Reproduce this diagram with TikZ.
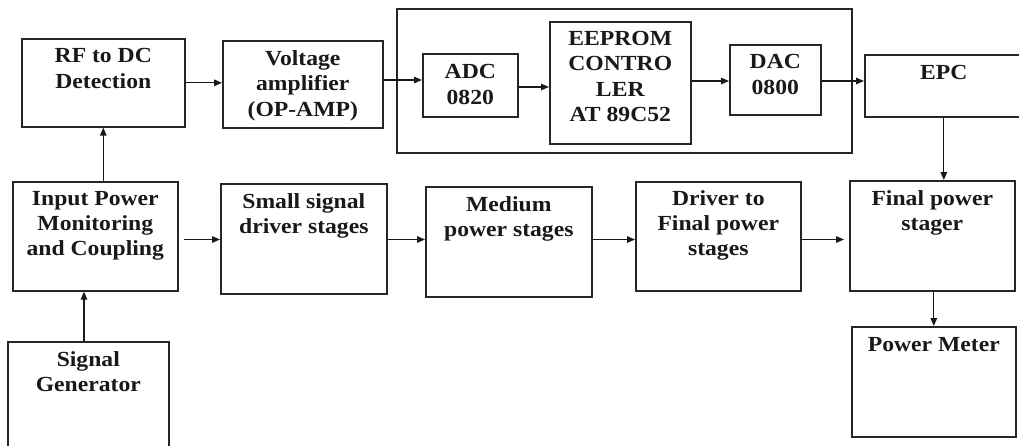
\documentclass[tikz,border=0pt]{standalone}
\usepackage{fontspec}
\setmainfont{Liberation Serif}[FakeStretch=1.1]
\usetikzlibrary{arrows.meta,calc}
\begin{document}
\begin{tikzpicture}[x=1pt,y=1pt,
  blk/.style={draw=black!85, line width=1.6pt, anchor=north west, inner sep=0pt},
  lbl/.style={anchor=north, inner sep=0pt, align=center, text=black!90,
              font=\bfseries\fontsize{21.5}{25.3}\selectfont},
  arr/.style={draw=black!90, line width=1.3pt, -{Triangle[length=8pt,width=6.5pt]}}]
\useasboundingbox (0,0) rectangle (1019,-445);
\fill[white] (0,0) rectangle (1019,-445);
% boxes
\node[blk, minimum width=163pt, minimum height=88pt]  (rf)  at (21,-38)  {};
\node[blk, minimum width=160pt, minimum height=87pt]  (va)  at (222,-40) {};
\node[blk, minimum width=455pt, minimum height=144pt] (mcu) at (396,-8)  {};
\node[blk, minimum width=95pt,  minimum height=63pt]  (adc) at (422,-53) {};
\node[blk, minimum width=141pt, minimum height=122pt] (eep) at (549,-21) {};
\node[blk, minimum width=91pt,  minimum height=70pt]  (dac) at (729,-44) {};
\node[blk, minimum width=158pt, minimum height=62pt]  (epc) at (864,-54) {};
\node[blk, minimum width=165pt, minimum height=109pt] (inp) at (12,-181) {};
\node[blk, minimum width=166pt, minimum height=110pt] (ssd) at (220,-183) {};
\node[blk, minimum width=166pt, minimum height=110pt] (med) at (425,-186) {};
\node[blk, minimum width=165pt, minimum height=109pt] (drv) at (635,-181) {};
\node[blk, minimum width=165pt, minimum height=110pt] (fin) at (849,-180) {};
\node[blk, minimum width=164pt, minimum height=110pt] (pm)  at (851,-326) {};
\node[blk, minimum width=161pt, minimum height=112pt] (sg)  at (7,-341)  {};
% labels
\node[lbl] (rft)  at ([yshift=-10.5pt]rf.north)  {RF to DC\\Detection};
\node[lbl] (vat)  at ([yshift=-10.5pt]va.north)  {Voltage\\amplifier\\(OP-AMP)};
\node[lbl] (adct) at ([yshift=-11.5pt]adc.north) {ADC\\0820};
\node[lbl] (eept) at ([yshift=-10pt]eep.north)   {EEPROM\\CONTRO\\LER\\AT 89C52};
\node[lbl] (dact) at ([yshift=-10.5pt]dac.north) {DAC\\0800};
\node[lbl] (epct) at ([yshift=-11.5pt]epc.north) {EPC};
\node[lbl] (inpt) at ([yshift=-10pt]inp.north)   {Input Power\\Monitoring\\and Coupling};
\node[lbl] (ssdt) at ([yshift=-10pt]ssd.north)   {Small signal\\driver stages};
\node[lbl] (medt) at ([yshift=-10pt]med.north)   {Medium\\power stages};
\node[lbl] (drvt) at ([yshift=-9pt]drv.north)    {Driver to\\Final power\\stages};
\node[lbl] (fint) at ([yshift=-10pt]fin.north)   {Final power\\stager};
\node[lbl] (pmt)  at ([yshift=-11.5pt]pm.north)  {Power Meter};
\node[lbl] (sgt)  at ([yshift=-10pt]sg.north)    {Signal\\Generator};
% helper coordinates
\coordinate (row)  at (0,-239.5);
\coordinate (ytop) at (0,-80);
\coordinate (yae)  at (0,-87);
\coordinate (yde)  at (0,-81);
\coordinate (xsg)  at (84,0);
% connectors
\draw[arr] (rf.east) -- (rf.east -| va.west);
\draw[arr] (va.east |- ytop) -- (adc.west |- ytop);
\draw[arr] (adc.east |- yae) -- (eep.west |- yae);
\draw[arr] (eep.east |- yde) -- (dac.west |- yde);
\draw[arr] (dac.east |- yde) -- (epc.west |- yde);
\draw[arr] (epc.south) -- (epc.south |- fin.north);
\draw[arr] (inp.north -| rf.south) -- (rf.south);
\draw[arr] ([xshift=5pt]inp.east |- row) -- (ssd.west |- row);
\draw[arr] (ssd.east |- row) -- (med.west |- row);
\draw[arr] (med.east |- row) -- (drv.west |- row);
\draw[arr] (drv.east |- row) -- ([xshift=-5pt]fin.west |- row);
\draw[arr] (fin.south -| pm.north) -- (pm.north);
\draw[arr] (sg.north -| xsg) -- (inp.south -| xsg);
\end{tikzpicture}
\end{document}
